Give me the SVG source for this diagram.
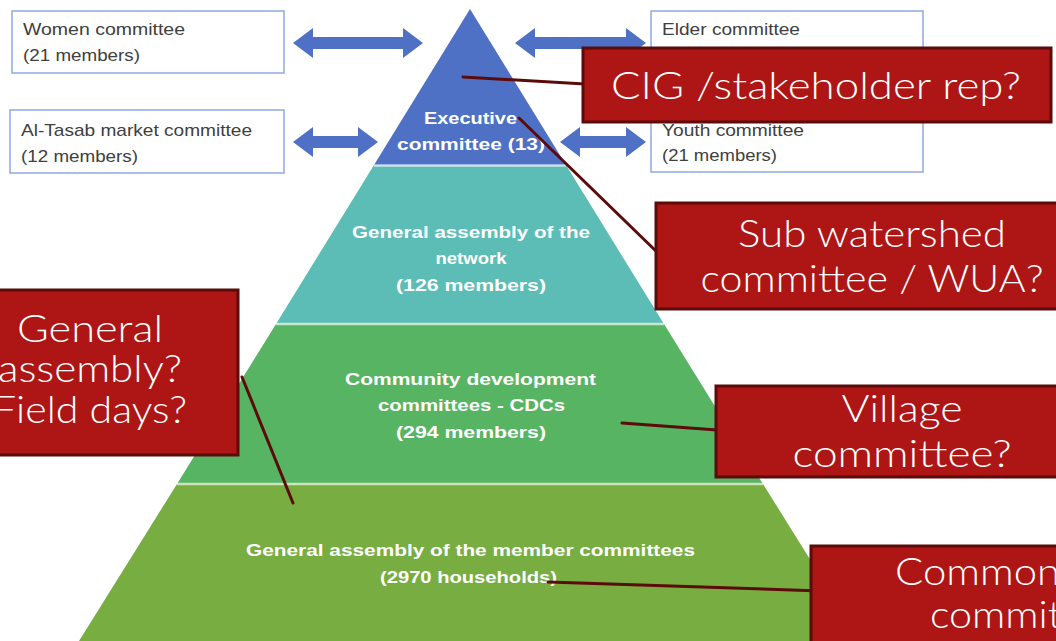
<svg xmlns="http://www.w3.org/2000/svg" width="1056" height="641" viewBox="0 0 1056 641">
<style>
.lvl{font-family:"Liberation Sans",Arial,sans-serif;font-weight:bold;font-size:17px;fill:#ffffff;text-anchor:middle}
.box{fill:#ffffff;stroke:#8FAADC;stroke-width:1.5}
.btx{font-family:"Liberation Sans",Arial,sans-serif;font-size:17px;fill:#404040}
.arw{fill:#4E71C5}
.red{fill:#AE1515;stroke:#5C0B0B;stroke-width:3}
.rtx{font-family:Lato,"Liberation Sans",Arial,sans-serif;font-weight:300;font-size:37px;fill:#ffffff;text-anchor:middle}
.lnk{stroke:#5C0B0B;stroke-width:3;fill:none;stroke-linecap:round}
.sep{stroke:#ffffff;stroke-opacity:0.65;stroke-width:2.5}
</style>
<rect width="1056" height="641" fill="#ffffff"/>
<g id="pyramid">
<g id="level-executive">
<polygon points="470,9 566,165 374,165" fill="#4E71C5"/>
<text class="lvl" x="470.5" y="124" textLength="93" lengthAdjust="spacingAndGlyphs">Executive</text>
<text class="lvl" x="471" y="150" textLength="148" lengthAdjust="spacingAndGlyphs">committee (13)</text>
</g>
<g id="level-network">
<polygon points="374,165 566,165 664,324 276,324" fill="#5CBDB6"/>
<text class="lvl" x="471" y="238" textLength="238" lengthAdjust="spacingAndGlyphs">General assembly of the</text>
<text class="lvl" x="471" y="264" textLength="71" lengthAdjust="spacingAndGlyphs">network</text>
<text class="lvl" x="471" y="291" textLength="150" lengthAdjust="spacingAndGlyphs">(126 members)</text>
</g>
<g id="level-cdc">
<polygon points="276,324 664,324 763,484 177,484" fill="#57B462"/>
<text class="lvl" x="470.5" y="385" textLength="251" lengthAdjust="spacingAndGlyphs">Community development</text>
<text class="lvl" x="471.5" y="411" textLength="187" lengthAdjust="spacingAndGlyphs">committees - CDCs</text>
<text class="lvl" x="471" y="438" textLength="150" lengthAdjust="spacingAndGlyphs">(294 members)</text>
</g>
<g id="level-members">
<polygon points="177,484 763,484 861,641 79,641" fill="#77AD41"/>
<text class="lvl" x="470.5" y="556" textLength="449" lengthAdjust="spacingAndGlyphs">General assembly of the member committees</text>
<text class="lvl" x="468.5" y="583" textLength="177" lengthAdjust="spacingAndGlyphs">(2970 households)</text>
</g>
<line class="sep" x1="374" y1="165.5" x2="566" y2="165.5"/>
<line class="sep" x1="276" y1="324" x2="664" y2="324"/>
<line class="sep" x1="177" y1="484" x2="763" y2="484"/>
</g>
<g id="women-committee">
<rect class="box" x="12" y="11" width="272" height="62"/>
<text class="btx" x="23" y="35" textLength="162" lengthAdjust="spacingAndGlyphs">Women committee</text>
<text class="btx" x="23" y="61" textLength="117" lengthAdjust="spacingAndGlyphs">(21 members)</text>
</g>
<g id="altasab-committee">
<rect class="box" x="10" y="110" width="274" height="63"/>
<text class="btx" x="21" y="136" textLength="231" lengthAdjust="spacingAndGlyphs">Al-Tasab market committee</text>
<text class="btx" x="21" y="162" textLength="117" lengthAdjust="spacingAndGlyphs">(12 members)</text>
</g>
<g id="elder-committee">
<rect class="box" x="651" y="11" width="272" height="62"/>
<text class="btx" x="662" y="35" textLength="138" lengthAdjust="spacingAndGlyphs">Elder committee</text>
</g>
<g id="youth-committee">
<rect class="box" x="651" y="110" width="272" height="62"/>
<text class="btx" x="662" y="136" textLength="142" lengthAdjust="spacingAndGlyphs">Youth committee</text>
<text class="btx" x="662" y="161" textLength="115" lengthAdjust="spacingAndGlyphs">(21 members)</text>
</g>
<g id="connectors">
<polygon class="arw" points="293,43 313,28 313,37 403,37 403,28 423,43 403,58 403,49 313,49 313,58"/>
<polygon class="arw" points="293,142 313,127 313,136 358,136 358,127 378,142 358,157 358,148 313,148 313,157"/>
<polygon class="arw" points="515,43 535,28 535,37 626,37 626,28 646,43 626,58 626,49 535,49 535,58"/>
<polygon class="arw" points="560,142 580,127 580,136 626,136 626,127 646,142 626,157 626,148 580,148 580,157"/>
<line class="lnk" x1="463" y1="77" x2="585" y2="84"/>
<line class="lnk" x1="519" y1="118" x2="659" y2="254"/>
<line class="lnk" x1="622" y1="423" x2="717" y2="430"/>
<line class="lnk" x1="242" y1="377" x2="293" y2="503"/>
<line class="lnk" x1="548" y1="582" x2="821" y2="591"/>
</g>
<g id="callout-cig">
<rect class="red" x="583" y="48" width="468" height="74"/>
<text class="rtx" x="816" y="99" textLength="410" lengthAdjust="spacingAndGlyphs">CIG /stakeholder rep?</text>
</g>
<g id="callout-subwatershed">
<rect class="red" x="656" y="203" width="410" height="106"/>
<text class="rtx" x="872" y="247" textLength="268" lengthAdjust="spacingAndGlyphs">Sub watershed</text>
<text class="rtx" x="872" y="292" textLength="343" lengthAdjust="spacingAndGlyphs">committee / WUA?</text>
</g>
<g id="callout-village">
<rect class="red" x="716" y="386" width="350" height="91"/>
<text class="rtx" x="902" y="422" textLength="121" lengthAdjust="spacingAndGlyphs">Village</text>
<text class="rtx" x="902" y="467" textLength="219" lengthAdjust="spacingAndGlyphs">committee?</text>
</g>
<g id="callout-general">
<rect class="red" x="-10" y="290" width="248" height="165"/>
<text class="rtx" x="90" y="342" textLength="146" lengthAdjust="spacingAndGlyphs">General</text>
<text class="rtx" x="90" y="382" textLength="184" lengthAdjust="spacingAndGlyphs">assembly?</text>
<text class="rtx" x="90" y="423" textLength="194" lengthAdjust="spacingAndGlyphs">Field days?</text>
</g>
<g id="callout-common">
<rect class="red" x="811" y="546" width="260" height="110"/>
<text class="rtx" x="895" y="585" style="text-anchor:start" textLength="165" lengthAdjust="spacingAndGlyphs">Common</text>
<text class="rtx" x="930" y="628" style="text-anchor:start" textLength="188" lengthAdjust="spacingAndGlyphs">committee</text>
</g>
</svg>
